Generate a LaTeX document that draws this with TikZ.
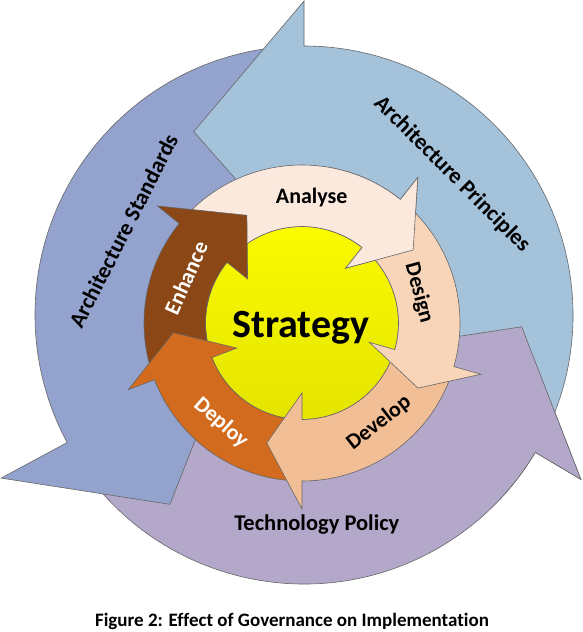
\documentclass[tikz,border=0pt]{standalone}
\usepackage{fontspec}
\setmainfont{Carlito}[Ligatures=NoCommon]
\definecolor{principles}{HTML}{A5C2DB}
\definecolor{standards}{HTML}{93A3CE}
\definecolor{policy}{HTML}{B3A8CA}
\definecolor{analyse}{HTML}{FBE9DE}
\definecolor{design}{HTML}{F8D5B9}
\definecolor{develop}{HTML}{F2BE96}
\definecolor{deploy}{HTML}{D26B1E}
\definecolor{enhance}{HTML}{8B4816}
\definecolor{strategytop}{HTML}{FAFA00}
\definecolor{strategybot}{HTML}{E4E400}
% colour, tail, base, tip angle, tip radius, inner, outer, inner barb, outer barb
\newcommand{\ringarrow}[9]{%
  \path[ringshape, fill=#1] (#2:#7) arc[start angle=#2, end angle=#3, radius=#7]
    -- (#3:#9) -- (#4:#5) -- (#3:#8) -- (#3:#6)
    arc[start angle=#3, end angle=#2, radius=#6] -- cycle;}
\begin{document}
\begin{tikzpicture}[x=1pt, y=1pt,
    ringshape/.style = {draw=black!60, line width=0.6pt, line join=miter},
    ringlabel/.style = {font=\bfseries\fontsize{22.5}{27}\selectfont, inner sep=0pt},
    steplabel/.style = {font=\bfseries\fontsize{22}{26}\selectfont, inner sep=0pt}]
  \useasboundingbox (0,0) rectangle (582,-632);
  % governance ring
  \begin{scope}[shift={(304,-315)}]
    \ringarrow{policy}{210.3}{329.3}{356.9}{218}{130}{269}{70}{322}
    \ringarrow{standards}{92}{208.3}{234.7}{232}{130}{269}{86}{344}
    \ringarrow{principles}{-28.7}{90}{121}{214}{130}{269}{58}{314}
  \end{scope}
  \begin{scope}
    \clip (430,-300) rectangle (582,-500);
    \begin{scope}[shift={(304,-315)}]
      \ringarrow{policy}{210.3}{329.3}{356.9}{218}{130}{269}{70}{322}
    \end{scope}
  \end{scope}
  % implementation cycle
  \begin{scope}[shift={(302,-323)}]
    \shade[ringshape, top color=strategytop, bottom color=strategybot] (0,0) circle[radius=96.5];
    \ringarrow{analyse}{139}{51.5}{33.3}{133}{96.5}{158}{70}{186}
    \ringarrow{enhance}{-161}{-219}{-242.9}{121}{96.5}{158}{70}{186}
    \ringarrow{deploy}{-92}{-159}{-175.7}{129}{96.5}{158}{70}{186}
    \ringarrow{develop}{-18}{-90}{-106.4}{125}{96.5}{158}{70}{186}
    \ringarrow{design}{49.5}{-16}{-29.3}{133}{96.5}{158}{70}{186}
  \end{scope}
  \begin{scope}
    \clip (330,-140) rectangle (480,-285);
    \begin{scope}[shift={(302,-323)}]
      \ringarrow{analyse}{139}{51.5}{33.3}{133}{96.5}{158}{70}{186}
    \end{scope}
  \end{scope}
  % labels
  \node[font=\bfseries\fontsize{40}{48}\selectfont, inner sep=0pt, anchor=base] (strategy) at (300.8,-337.3) {Strategy};
  \node[steplabel, anchor=base] (analyse) at (311.7,-203.3) {Analyse};
  \node[steplabel, rotate=-75] (design) at (419,-293) {Design};
  \node[steplabel, rotate=38] (develop) at (379,-423) {Develop};
  \node[steplabel, white, rotate=-41] (deploy) at (221,-423) {Deploy};
  \node[steplabel, white, rotate=66] (enhance) at (186,-278) {Enhance};
  \node[ringlabel, rotate=-45] (principles) at (452,-174.4) {Architecture Principles};
  \node[ringlabel, rotate=63] (standards) at (123.4,-231) {Architecture Standards};
  \node[ringlabel, anchor=base] (policy) at (316.8,-530.7) {Technology Policy};
  \node[font=\bfseries\fontsize{19}{23}\selectfont, inner sep=0pt, anchor=base] (caption) at (292,-626) {Figure 2: Effect of Governance on Implementation};
\end{tikzpicture}
\end{document}
